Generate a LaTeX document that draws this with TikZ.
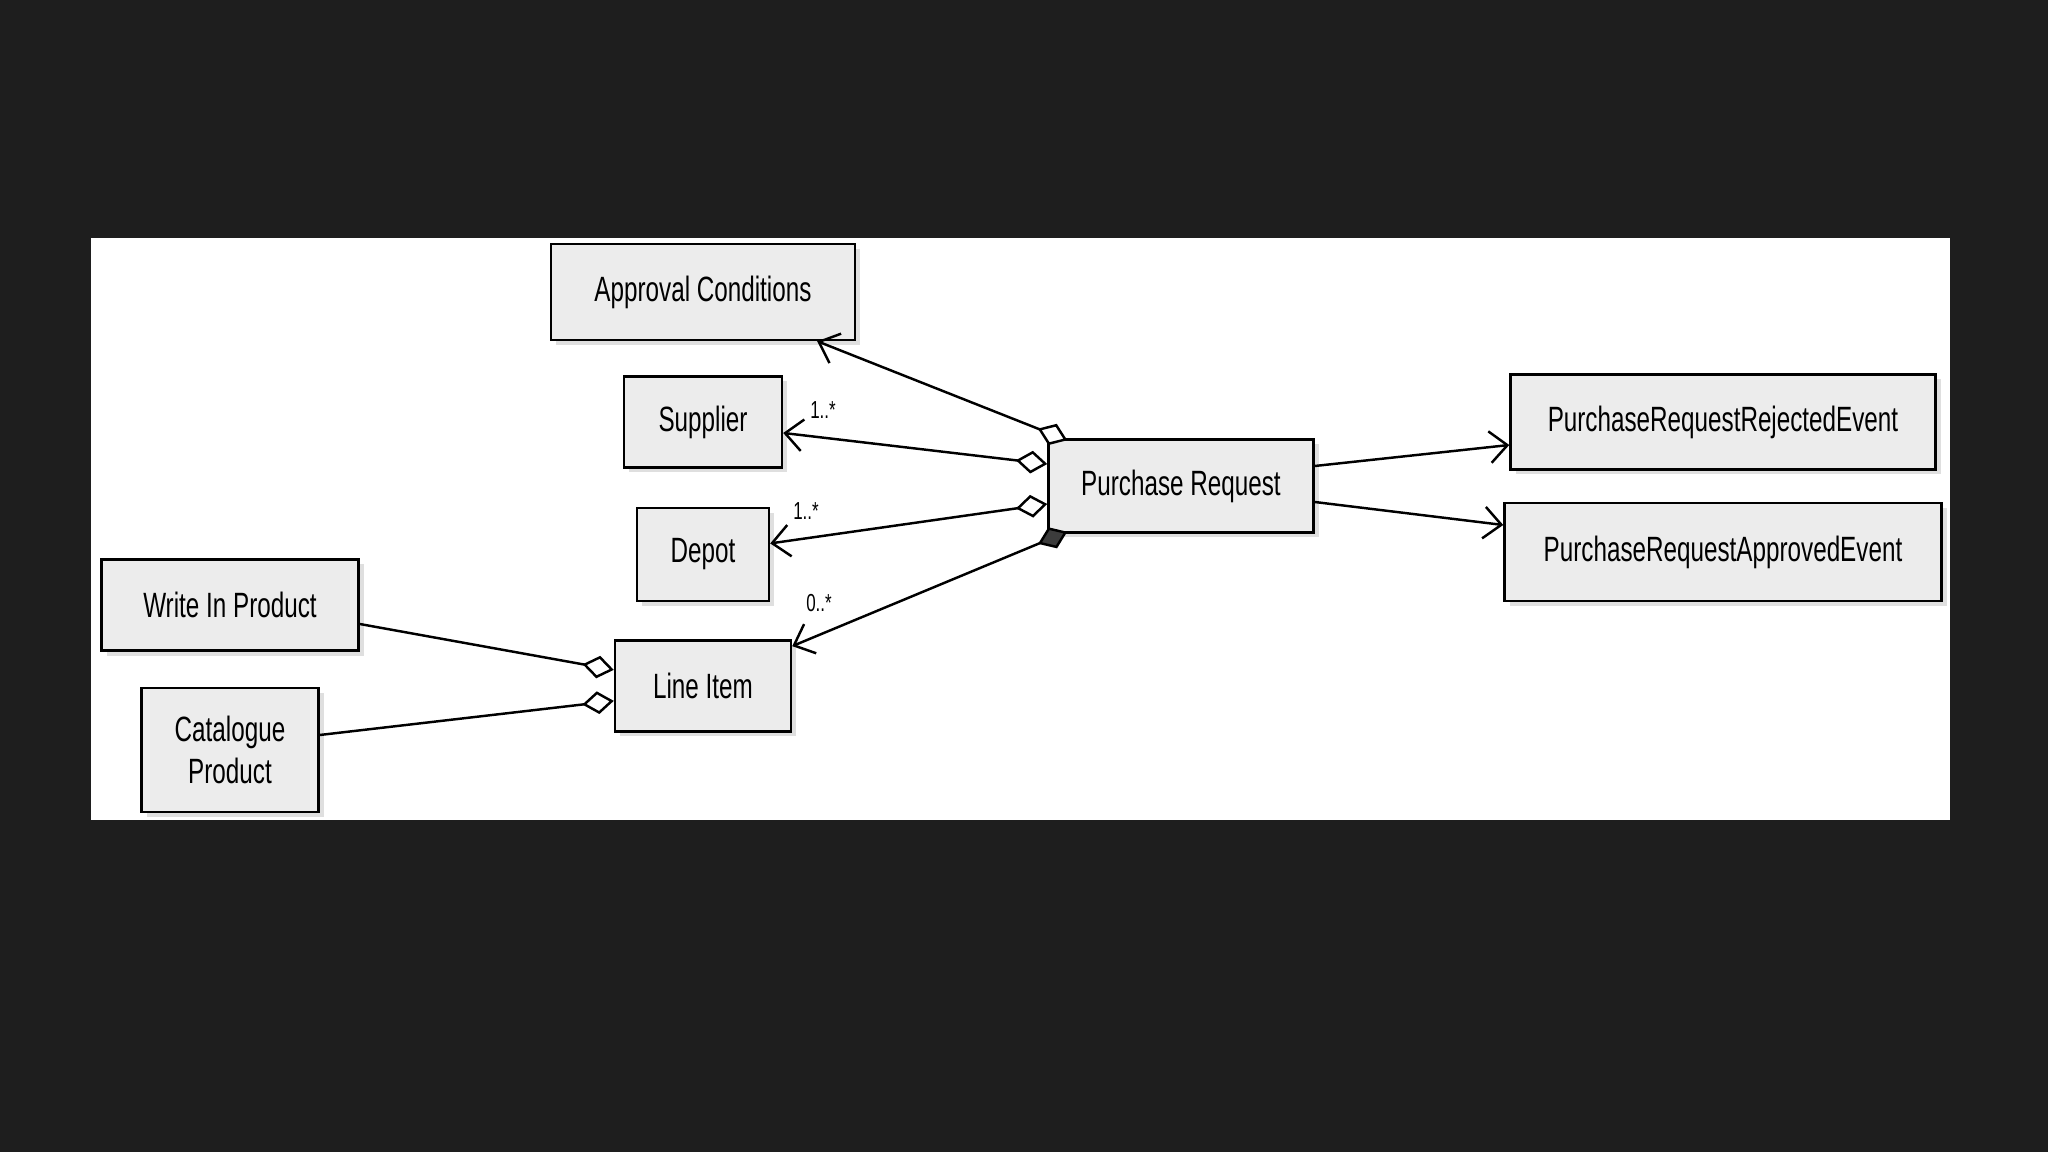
\documentclass[tikz,border=0pt]{standalone}
\usepackage{fontspec}
\setmainfont[FakeStretch=0.69]{Liberation Sans}
\usepackage{tikz}
\usetikzlibrary{arrows.meta, positioning, shadows}
\definecolor{board}{RGB}{30,30,30}
\definecolor{boxfill}{RGB}{236,236,236}
\definecolor{compfill}{RGB}{60,60,60}
\tikzset{
  cls/.style={
    rectangle, draw=black, fill=boxfill, line width=0.7pt,
    align=center, inner sep=2pt, font=\fontsize{10}{12}\selectfont,
    drop shadow={opacity=0.25, shadow xshift=0.05cm, shadow yshift=-0.05cm}
  },
  arr/.style={-{Straight Barb[length=5pt,width=9pt]}, line width=0.7pt},
  agg/.style={{Diamond[fill=white,length=9pt,width=6.5pt]}-{Straight Barb[length=5pt,width=9pt]}, line width=0.7pt},
  comp/.style={{Diamond[fill=compfill,length=9pt,width=6.5pt]}-{Straight Barb[length=5pt,width=9pt]}, line width=0.7pt},
  hasa/.style={-{Diamond[fill=white,length=9pt,width=6.5pt]}, line width=0.7pt},
  mult/.style={font=\fontsize{7}{8}\selectfont}
}

\begin{document}
\begin{tikzpicture}

  \useasboundingbox (0,0) rectangle (20.48,-11.52);
  \fill[board] (0,0) rectangle (20.48,-11.52);
  \fill[white] (0.91,-2.38) rectangle (19.50,-8.20);

  \node[cls, minimum width=2.65cm, minimum height=0.93cm] (pr) at (11.81,-4.86)
        {Purchase Request};

  \node[cls, minimum width=3.04cm, minimum height=0.96cm] (ac) at (7.03,-2.92)
        {Approval Conditions};
  \node[cls, minimum width=1.58cm, minimum height=0.91cm, below=0.34cm of ac] (sup)
        {Supplier};
  \node[cls, minimum width=1.32cm, minimum height=0.93cm, below=0.38cm of sup] (dep)
        {Depot};
  \node[cls, minimum width=1.76cm, minimum height=0.91cm, below=0.37cm of dep] (li)
        {Line Item};

  \node[cls, minimum width=2.57cm, minimum height=0.91cm] (wip) at (2.30,-6.05)
        {Write In Product};
  \node[cls, minimum width=1.77cm, minimum height=1.24cm] (cat) at (2.30,-7.50)
        {Catalogue\\Product};

  \node[cls, minimum width=4.25cm, minimum height=0.95cm] (rej) at (17.23,-4.22)
        {PurchaseRequestRejectedEvent};
  \node[cls, minimum width=4.37cm, minimum height=0.98cm] (app) at (17.23,-5.52)
        {PurchaseRequestApprovedEvent};

  %% aggregations from the purchase request
  \draw[agg]  ([xshift=0.2cm,yshift=-0.02cm]pr.north west) -- ([xshift=-0.39cm]ac.south east);
  \draw[agg]  ([yshift=0.22cm]pr.west) -- ([yshift=-0.11cm]sup.east);
  \draw[agg]  ([yshift=-0.18cm]pr.west) -- ([yshift=0.11cm]dep.east);
  \draw[comp] ([xshift=0.2cm,yshift=0.02cm]pr.south west) -- ([yshift=-0.07cm]li.north east);

  %% products of a line item
  \draw[hasa] ([yshift=-0.19cm]wip.east) -- ([yshift=0.16cm]li.west);
  \draw[hasa] ([yshift=0.15cm]cat.east) -- ([yshift=-0.15cm]li.west);

  %% events
  \draw[arr] ([yshift=0.20cm]pr.east) -- ([yshift=-0.23cm]rej.west);
  \draw[arr] ([yshift=-0.16cm]pr.east) -- ([yshift=0.27cm]app.west);

  %% multiplicities
  \node[mult] (msup) at (8.23,-4.10) {1..*};
  \node[mult] (mdep) at (8.06,-5.11) {1..*};
  \node[mult] (mli)  at (8.19,-6.03) {0..*};

\end{tikzpicture}
\end{document}
